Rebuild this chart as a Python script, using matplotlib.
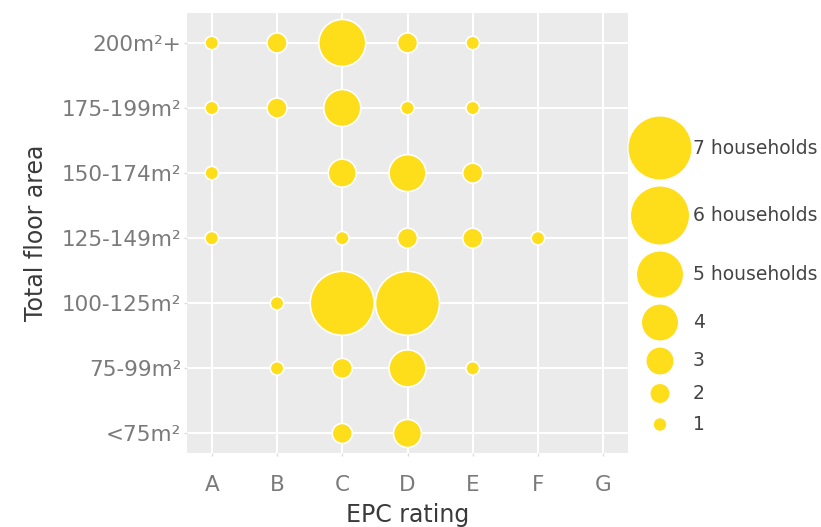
import matplotlib
matplotlib.use("Agg")
import matplotlib.pyplot as plt

plt.rcParams['font.family'] = ['DejaVu Sans']

# ---- data ----
epc_ratings = ["A", "B", "C", "D", "E", "F", "G"]
floor_areas = ["<75m²", "75-99m²", "100-125m²", "125-149m²", "150-174m²", "175-199m²", "200m²+"]

point_epc = ["A", "B", "C", "D", "E",
             "A", "B", "C", "D", "E",
             "A", "C", "D", "E",
             "A", "C", "D", "E", "F",
             "B", "C", "D",
             "B", "C", "D", "E",
             "C", "D"]
point_area = ["200m²+"] * 5 + ["175-199m²"] * 5 + ["150-174m²"] * 4 + ["125-149m²"] * 5 + \
             ["100-125m²"] * 3 + ["75-99m²"] * 4 + ["<75m²"] * 2
point_households = [1, 2, 5, 2, 1,
                    1, 2, 4, 1, 1,
                    1, 3, 4, 2,
                    1, 1, 2, 2, 1,
                    1, 7, 7,
                    1, 2, 4, 1,
                    2, 3]

legend_values = [7, 6, 5, 4, 3, 2, 1]
legend_labels = ["7 households", "6 households", "5 households", "4", "3", "2", "1"]

# ---- style ----
DPI = 100
W, H = 821, 527
# bubble diameter in pixels per household count (scale of the original)
diam_px = {1: 13.5, 2: 20.0, 3: 28.0, 4: 37.0, 5: 47.0, 6: 59.0, 7: 64.0}
YELLOW = "#FEDD1A"
BG = "#EBEBEB"

def s_of(n):
    return (diam_px[n] * 72.0 / DPI) ** 2

fig = plt.figure(figsize=(W / DPI, H / DPI), dpi=DPI)
ax = fig.add_axes([187 / W, 1 - 453 / H, (628 - 187) / W, (453 - 13) / H])
ax.set_facecolor(BG)
for sp in ax.spines.values():
    sp.set_visible(False)

xi = [epc_ratings.index(e) for e in point_epc]
yi = [floor_areas.index(a) for a in point_area]
ax.scatter(xi, yi, s=[s_of(n) for n in point_households], c=YELLOW,
           edgecolors="white", linewidths=1.2, zorder=3)

ax.set_xlim(-0.38, 6.38)
ax.set_ylim(-0.3, 6.46)
ax.set_xticks(range(len(epc_ratings)))
ax.set_xticklabels(epc_ratings)
ax.set_yticks(range(len(floor_areas)))
ax.set_yticklabels(floor_areas)
ax.grid(True, color="white", linewidth=1.5)
ax.set_axisbelow(True)
ax.tick_params(axis="both", colors="#DDDDDD", length=2.5, width=1, labelsize=15.5,
               labelcolor="#7A7A7A")
ax.tick_params(axis="y", pad=1.5)
ax.tick_params(axis="x", pad=13)
ax.set_xlabel("EPC rating", fontsize=17, color="#3A3A3A", labelpad=6)
ax.set_ylabel("Total floor area", fontsize=17, color="#3A3A3A", labelpad=10)

# ---- legend (size keys stacked like ggplot) ----
lax = fig.add_axes([0, 0, 1, 1])
lax.set_xlim(0, W)
lax.set_ylim(H, 0)
lax.axis("off")
key_h = [max(diam_px[v] + 6, 31) for v in legend_values]
centers = []
y = 148 - key_h[0] / 2
for h in key_h:
    centers.append(y + h / 2)
    y += h
lax.scatter([660] * len(legend_values), centers, s=[s_of(v) for v in legend_values],
            c=YELLOW, edgecolors="white", linewidths=0.8)
for lab, cy in zip(legend_labels, centers):
    lax.text(693, cy, lab, fontsize=13.5, color="#444444", va="center", ha="left")

fig.savefig("out.png", dpi=DPI)
